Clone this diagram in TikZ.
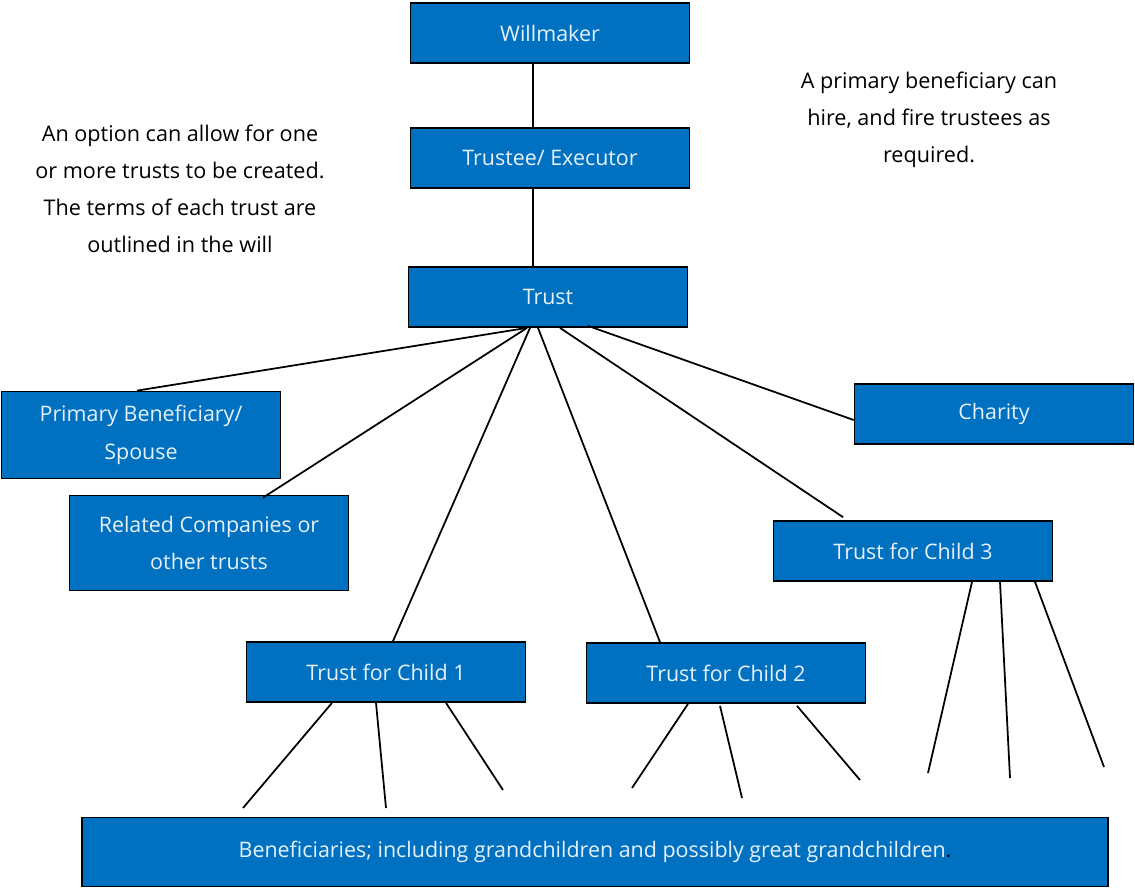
\documentclass[tikz,border=0pt]{standalone}
\usepackage{fontspec}
\setmainfont{Open Sans}
\usepackage{xcolor}
\usetikzlibrary{calc}
\definecolor{boxblue}{HTML}{0070C0}
\definecolor{boxtext}{HTML}{E6F1FA}
\tikzset{
    blue-box/.style = {draw=black, fill=boxblue, line width=1pt, rectangle, text=boxtext, align=center,
        minimum width=5.58cm, minimum height=1.2cm, inner sep=2pt, font=\fontsize{12.2}{21.5}\selectfont},
    note-text/.style = {align=center, text=black, font=\fontsize{12.3}{21}\selectfont},
    link/.style = {draw=black, line width=1pt},
}
\begin{document}
\begin{tikzpicture}[x=0.02cm, y=-0.02cm]
\useasboundingbox (0,0) rectangle (1135,889);
\node [blue-box] (willmaker) at (550,33) {Willmaker};
\node [blue-box] (executor) at (550,158) {Trustee/ Executor};
\node [blue-box] (trust) at (548,297) {Trust};
\node [blue-box, minimum height=1.74cm] (spouse) at (141,435) {Primary Beneficiary/\\Spouse};
\node [blue-box, minimum height=1.9cm] (related) at (209,543) {Related Companies or\\other trusts};
\node [blue-box] (charity) at (994,414) {Charity};
\node [blue-box] (child3) at (913,551) {Trust for Child 3};
\node [blue-box] (child1) at (386,672) {Trust for Child 1};
\node [blue-box] (child2) at (726,673) {Trust for Child 2};
\node [blue-box, minimum width=20.52cm, minimum height=1.38cm] (beneficiaries) at (595,852)
    {Beneficiaries; including grandchildren and possibly great grandchildren{\color{black}.}};
% notes
\node [note-text] (option-note) at (180,189) {An option can allow for one\\or more trusts to be created.\\The terms of each trust are\\outlined in the will};
\node [note-text] (hire-note) at (929,120) {A primary beneficiary can\\hire, and fire trustees as\\required.};
% top chain
\draw [link] ($(willmaker.south)+(-17,0)$) -- ($(executor.north)+(-17,0)$);
\draw [link] ($(executor.south)+(-17,0)$) -- ($(trust.north)+(-15,0)$);
% from trust
\draw [link] ($(trust.south)+(-21,0)$) -- ($(spouse.north)+(-4,0)$);
\draw [link] ($(trust.south)+(-21,0)$) -- ($(related.north)+(54,3)$);
\draw [link] ($(trust.south)+(-18,0)$) -- ($(child1.north)+(7,0)$);
\draw [link] ($(trust.south)+(-10,0)$) -- ($(child2.north)+(-66,0)$);
\draw [link] ($(trust.south)+(12,0)$) -- ($(child3.north)+(-70,-3)$);
\draw [link] ($(trust.south)+(40,-2)$) -- ($(charity.west)+(0,6)$);
% open ends below the child trusts
\coordinate (leaf1a) at (243,808);
\coordinate (leaf1b) at (386,808);
\coordinate (leaf1c) at (503,790);
\coordinate (leaf2a) at (632,788);
\coordinate (leaf2b) at (742,798);
\coordinate (leaf2c) at (860,780);
\coordinate (leaf3a) at (928,773);
\coordinate (leaf3b) at (1010,778);
\coordinate (leaf3c) at (1104,767);
\draw [link] ($(child1.south)+(-54,0)$) -- (leaf1a);
\draw [link] ($(child1.south)+(-10,0)$) -- (leaf1b);
\draw [link] ($(child1.south)+(60,0)$) -- (leaf1c);
\draw [link] ($(child2.south)+(-38,0)$) -- (leaf2a);
\draw [link] ($(child2.south)+(-6,2)$) -- (leaf2b);
\draw [link] ($(child2.south)+(71,2)$) -- (leaf2c);
\draw [link] ($(child3.south)+(59,0)$) -- (leaf3a);
\draw [link] ($(child3.south)+(87,0)$) -- (leaf3b);
\draw [link] ($(child3.south)+(122,0)$) -- (leaf3c);
\end{tikzpicture}
\end{document}
